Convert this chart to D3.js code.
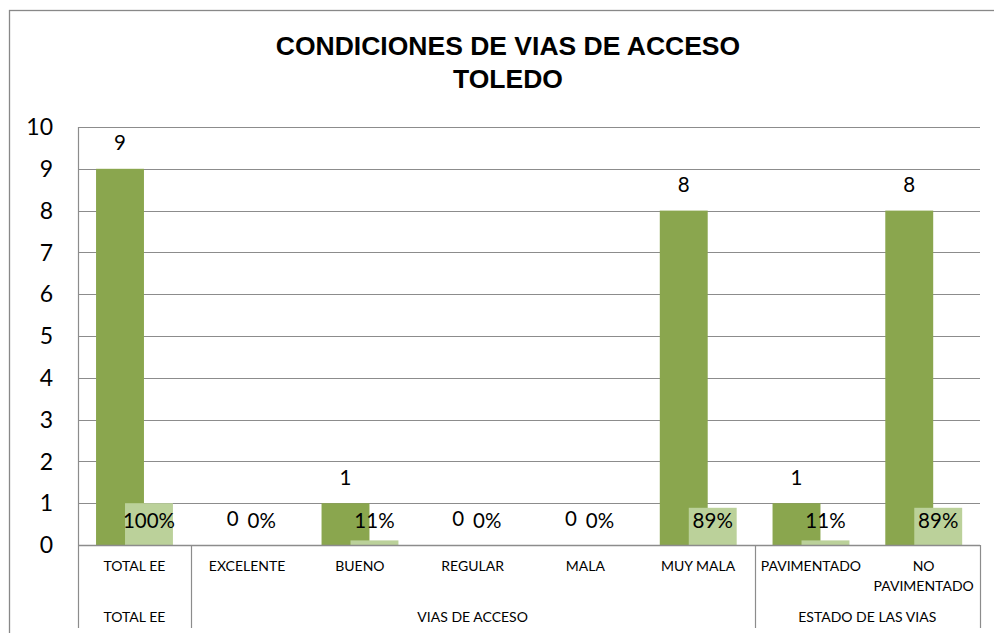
<!DOCTYPE html>
<html><head><meta charset="utf-8">
<script src="https://cdn.jsdelivr.net/npm/d3@7"></script>
<style>body{margin:0;background:#fff}svg{display:block}</style>
</head><body>
<script>
const categories = ["TOTAL EE","EXCELENTE","BUENO","REGULAR","MALA","MUY MALA","PAVIMENTADO","NO PAVIMENTADO"];
const groups = [
  {name:"TOTAL EE", from:0, to:0},
  {name:"VIAS DE ACCESO", from:1, to:5},
  {name:"ESTADO DE LAS VIAS", from:6, to:7}
];
const counts = [9,0,1,0,0,8,1,8];
const percents = [1.00,0,0.11,0,0,0.89,0.11,0.89];
const percentLabels = ["100%","0%","11%","0%","0%","89%","11%","89%"];
const yTicks = [0,1,2,3,4,5,6,7,8,9,10];

const W = 994, H = 633;
const svg = d3.select("body").append("svg").attr("width",W).attr("height",H);

// outer chart border
svg.append("rect").attr("x",9.5).attr("y",10.5).attr("width",W+20).attr("height",H+20)
  .attr("fill","none").attr("stroke","#888").attr("stroke-width",1.3);

const tfont = "Liberation Sans, Arial, sans-serif";
svg.append("text").attr("x",508).attr("y",55).attr("text-anchor","middle")
  .attr("font-family",tfont).attr("font-weight","bold").attr("font-size",26.5)
  .text("CONDICIONES DE VIAS DE ACCESO");
svg.append("text").attr("x",508).attr("y",88).attr("text-anchor","middle")
  .attr("font-family",tfont).attr("font-weight","bold").attr("font-size",26.5)
  .text("TOLEDO");

const x0 = 78, x1 = 980;
const x = d3.scaleBand().domain(d3.range(categories.length)).range([x0,x1]).paddingInner(0).paddingOuter(0);
const y = d3.scaleLinear().domain([0,10]).range([545,127]);

const bw = x.bandwidth();
const gap = bw*0.16, barW = bw*0.425, off = bw*0.257;

// gridlines
svg.append("g").selectAll("line").data(yTicks).join("line")
  .attr("x1",x0).attr("x2",x1).attr("y1",d=>Math.round(y(d))+0.5).attr("y2",d=>Math.round(y(d))+0.5)
  .attr("stroke","#8c8c8c").attr("stroke-width",1.2);

// y axis labels
const font = "Lato, 'Open Sans', sans-serif";
svg.append("g").selectAll("text").data(yTicks).join("text")
  .attr("x",53).attr("y",d=>y(d)).attr("dy","0.36em").attr("text-anchor","end")
  .attr("font-family",font).attr("font-size",23).attr("fill","#000").text(d=>d);

// bars
svg.append("g").selectAll("rect").data(counts).join("rect")
  .attr("x",(d,i)=>x(i)+gap).attr("y",d=>y(d)).attr("width",barW).attr("height",d=>y(0)-y(d))
  .attr("fill","#8aa64e");
svg.append("g").selectAll("rect").data(percents).join("rect")
  .attr("x",(d,i)=>x(i)+gap+off).attr("y",d=>y(d)).attr("width",barW).attr("height",d=>y(0)-y(d))
  .attr("fill","#bbd19a");

// labels
svg.append("g").selectAll("text").data(counts).join("text")
  .attr("x",(d,i)=>x(i)+gap+barW/2).attr("y",d=>y(d)-26).attr("dy","0.36em").attr("text-anchor","middle")
  .attr("font-family",font).attr("font-size",20.5).text(d=>d);
svg.append("g").selectAll("text").data(percentLabels).join("text")
  .attr("x",(d,i)=>x(i)+gap+off+barW/2).attr("y",y(0)-24).attr("dy","0.36em").attr("text-anchor","middle")
  .attr("font-family",font).attr("font-size",20.5).text(d=>d);

// axis left line and bottom
svg.append("line").attr("x1",x0+0.5).attr("x2",x0+0.5).attr("y1",127).attr("y2",628).attr("stroke","#8c8c8c").attr("stroke-width",1.2);
svg.append("line").attr("x1",x0).attr("x2",x1).attr("y1",545.5).attr("y2",545.5).attr("stroke","#8c8c8c").attr("stroke-width",1.4);

// group separators and group labels
groups.forEach(g=>{
  const xr = x(g.to)+bw;
  svg.append("line").attr("x1",Math.round(xr)+0.5).attr("x2",Math.round(xr)+0.5).attr("y1",545).attr("y2",628)
    .attr("stroke","#8c8c8c").attr("stroke-width",1.2);
  svg.append("text").attr("x",(x(g.from)+xr)/2).attr("y",617).attr("dy","0.36em").attr("text-anchor","middle")
    .attr("font-family",font).attr("font-size",14).text(g.name);
});

// category labels
categories.forEach((c,i)=>{
  const cx = x(i)+bw/2;
  const words = c === "NO PAVIMENTADO" ? ["NO","PAVIMENTADO"] : [c];
  words.forEach((w,k)=>{
    svg.append("text").attr("x",cx).attr("y",566+k*20).attr("dy","0.36em").attr("text-anchor","middle")
      .attr("font-family",font).attr("font-size",14).text(w);
  });
});
</script>
</body></html>
